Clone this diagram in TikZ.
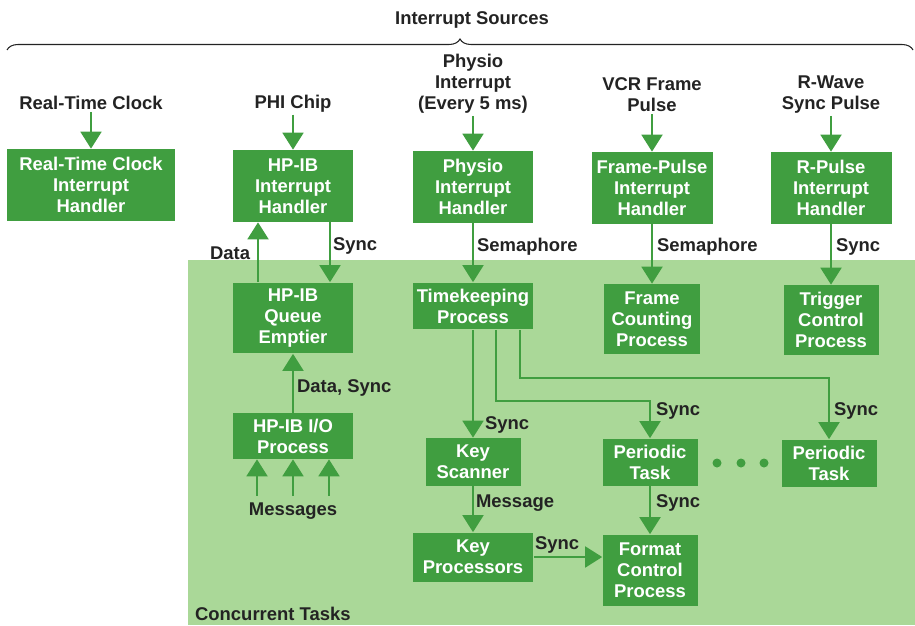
\documentclass[tikz,border=0pt]{standalone}
\usepackage{fontspec}
\setmainfont{Liberation Sans}
\usetikzlibrary{arrows.meta,decorations.pathreplacing}

\definecolor{boxgreen}{RGB}{64,158,64}
\definecolor{taskgreen}{RGB}{170,216,152}
\definecolor{inkgray}{RGB}{35,35,35}

\tikzset{
  box/.style={fill=boxgreen, text=white, align=center, inner sep=0pt,
    minimum width=2.42cm, minimum height=1.44cm},
  lbl/.style={text=inkgray, align=center, inner sep=1pt},
  arr/.style={draw=boxgreen, line width=1.1pt, -{Triangle[width=0.42cm,length=0.34cm]}},
}

\begin{document}
\begin{tikzpicture}[x=0.02cm, y=-0.02cm, font=\fontsize{10.5}{12}\selectfont\bfseries]

        \useasboundingbox (0,0) rectangle (915,625);
        \fill[taskgreen] (188,260) rectangle (915,625);

        \draw[inkgray, line width=0.6pt, decorate, decoration={brace, amplitude=0.22cm}]
          (7,50) -- (913,50);

        \begin{scope}[every node/.style={box}]
          \node[minimum width=3.36cm] (hclock) at (91,185) {Real-Time Clock\\Interrupt\\Handler};
          \node (hhpib)   at (293,186) {HP-IB\\Interrupt\\Handler};
          \node (hphysio) at (473,187) {Physio\\Interrupt\\Handler};
          \node (hframe)  at (652,188) {Frame-Pulse\\Interrupt\\Handler};
          \node (hrpulse) at (831,188) {R-Pulse\\Interrupt\\Handler};

          \node[minimum height=1.42cm] (pqueue) at (293,318) {HP-IB\\Queue\\Emptier};
          \node[minimum height=0.92cm] (pio)    at (293,436) {HP-IB I/O\\Process};
          \node[minimum height=0.94cm] (ptime)  at (473,306) {Timekeeping\\Process};
          \node[minimum width=1.92cm, minimum height=1.4cm] (pframe)   at (652,319) {Frame\\Counting\\Process};
          \node[minimum width=1.9cm, minimum height=1.4cm]  (ptrigger) at (831,320) {Trigger\\Control\\Process};
          \node[minimum width=1.9cm, minimum height=0.96cm] (pscan)    at (473,462) {Key\\Scanner};
          \node[minimum width=1.9cm, minimum height=0.94cm] (ptask)    at (650,462) {Periodic\\Task};
          \node[minimum width=1.9cm, minimum height=0.94cm] (ptaskn)   at (829,463) {Periodic\\Task};
          \node[minimum height=0.98cm] (pkeys)  at (473,557) {Key\\Processors};
          \node[minimum width=1.9cm, minimum height=1.42cm] (pformat)  at (650,570) {Format\\Control\\Process};
        \end{scope}

        \begin{scope}[every node/.style={lbl}]
          \node (tsources) at (472,20)  {Interrupt Sources};
          \node (lclock)   at (91,103)  {Real-Time Clock};
          \node (lphi)     at (293,104) {PHI Chip};
          \node (lphysio)  at (473,84)  {Physio\\Interrupt\\(Every 5 ms)};
          \node (lvcr)     at (652,95)  {VCR Frame\\Pulse};
          \node (lrwave)   at (831,95)  {R-Wave\\Sync Pulse};
          \node (msgs)     at (293,511) {Messages};
          \node[anchor=west] (ttasks) at (193,614) {Concurrent Tasks};
        \end{scope}

        \begin{scope}[every node/.style={lbl, anchor=west}]
          \node (tdata)   at (208,253) {Data};
          \node (tsynca)  at (331,246) {Sync};
          \node (tsema)   at (475,247) {Semaphore};
          \node (tsemb)   at (655,247) {Semaphore};
          \node (tsyncb)  at (834,247) {Sync};
          \node (tdsync)  at (295,388) {Data, Sync};
          \node (tsyncc)  at (483,425) {Sync};
          \node (tsyncd)  at (654,411) {Sync};
          \node (tsynce)  at (832,411) {Sync};
          \node (tmsg)    at (474,503) {Message};
          \node (tsyncf)  at (654,503) {Sync};
          \node (tsyncg)  at (533,545) {Sync};
        \end{scope}

        \draw[arr] (lclock) -- (hclock);
        \draw[arr] (lphi) -- (hhpib);
        \draw[arr] (lphysio) -- (hphysio);
        \draw[arr] (lvcr) -- (hframe);
        \draw[arr] (lrwave) -- (hrpulse);

        \draw[arr] (hphysio) -- (ptime);
        \draw[arr] (hframe) -- (pframe);
        \draw[arr] (hrpulse) -- (ptrigger);

        \draw[arr] ([xshift=-0.7cm]pqueue.north) -- ([xshift=-0.7cm]pqueue.north |- hhpib.south);
        \draw[arr] ([xshift=0.74cm]hhpib.south) -- ([xshift=0.74cm]hhpib.south |- pqueue.north);
        \draw[arr] (pio) -- (pqueue);
        \foreach \dx in {-0.72cm,0cm,0.72cm}
          \draw[arr] ([xshift=\dx,yshift=0.1cm]msgs.north) -- ([xshift=\dx]msgs.north |- pio.south);

        \draw[arr] (ptime) -- (pscan);
        \draw[arr] ([xshift=0.46cm]ptime.south) -- ++(0,71) -| (ptask.north);
        \draw[arr] ([xshift=0.94cm]ptime.south) -- ++(0,48) -| (ptaskn.north);
        \draw[arr] (pscan) -- (pkeys);
        \draw[arr] (ptask) -- (pformat);
        \draw[arr] (pkeys.east) -- (pkeys.east -| pformat.west);

        \foreach \x in {717,741,764}
          \fill[boxgreen] (\x,463) circle[radius=0.09cm];

      \end{tikzpicture}
\end{document}
